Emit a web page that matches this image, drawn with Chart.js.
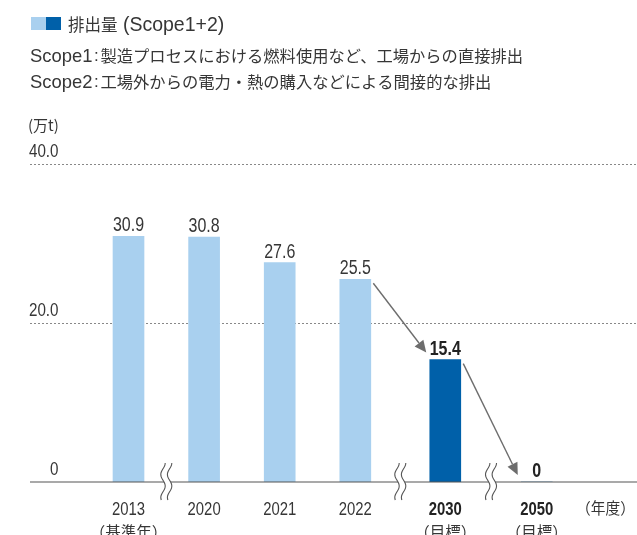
<!DOCTYPE html>
<html lang="ja">
<head>
<meta charset="UTF-8">
<title>排出量 (Scope1+2)</title>
<script src="https://cdn.jsdelivr.net/npm/chart.js@4"></script>
<style>
  body { margin: 0; background: #fff; }
  canvas { display: block; }
</style>
</head>
<body>
<canvas id="myChart" width="637" height="535"></canvas>
<script>
// ---- data ----
const years = ['2013', '2020', '2021', '2022', '2030', '2050'];
const yearNotes = ['（基準年）', '', '', '', '（目標）', '（目標）'];
const emissions = [30.9, 30.8, 27.6, 25.5, 15.4, 0];
const isTarget = [false, false, false, false, true, true];
const yTickValues = [0, 20, 40];
const yTickLabels = ['0', '20.0', '40.0'];

// where each year sits on the x axis (extra room around the breaks)
const slots = [0, 1, 2, 3, 4.19, 5.4];
// axis breaks come after these indexes
const breakAfter = [0, 3, 4];
// arrows go from index to index
const arrows = [[3, 4], [4, 5]];

const LIGHT = '#a9d0ef';
const DARK = '#0060a9';
const TEXT = '#363636';
const NUM_FONT = "'Liberation Sans', Arial, sans-serif";
const JP_FONT = "'Noto Sans CJK JP', sans-serif";

// draw text, optionally squeezed horizontally (sx)
function drawText(ctx, str, x, y, size, opts) {
  opts = opts || {};
  ctx.save();
  ctx.font = (opts.bold ? 'bold ' : '') + size + 'px ' + (opts.family || NUM_FONT);
  ctx.fillStyle = opts.color || TEXT;
  ctx.textBaseline = 'alphabetic';
  ctx.textAlign = 'left';
  const sx = opts.sx || 1;
  const w = ctx.measureText(str).width * sx;
  let left = x;
  if (opts.align === 'center') left = x - w / 2;
  if (opts.align === 'right') left = x - w;
  ctx.translate(left, y);
  ctx.scale(sx, 1);
  ctx.fillText(str, 0, 0);
  ctx.restore();
  return left + w;
}

function drawArrow(ctx, x1, y1, x2, y2) {
  const a = Math.atan2(y2 - y1, x2 - x1);
  const head = 12, half = 5.5;
  const bx = x2 - head * Math.cos(a), by = y2 - head * Math.sin(a);
  ctx.save();
  ctx.strokeStyle = '#6d6d6d';
  ctx.fillStyle = '#6d6d6d';
  ctx.lineWidth = 1.4;
  ctx.beginPath();
  ctx.moveTo(x1, y1);
  ctx.lineTo(bx, by);
  ctx.stroke();
  ctx.beginPath();
  ctx.moveTo(x2, y2);
  ctx.lineTo(bx + half * Math.sin(a), by - half * Math.cos(a));
  ctx.lineTo(bx - half * Math.sin(a), by + half * Math.cos(a));
  ctx.closePath();
  ctx.fill();
  ctx.restore();
}

// wavy double line that cuts the baseline
function drawBreak(ctx, cx, yb) {
  const y0 = yb - 19, y1 = yb + 18;
  const wave = (off) => {
    const pts = [];
    for (let y = y0; y <= y1; y += 1) {
      pts.push([cx + off + 2.2 * Math.cos(Math.PI * (y - y0) / 11.5), y]);
    }
    return pts;
  };
  const a = wave(-3.3), b = wave(3.3);
  ctx.save();
  ctx.fillStyle = '#fff';
  ctx.beginPath();
  a.forEach((p, i) => i ? ctx.lineTo(p[0], p[1]) : ctx.moveTo(p[0], p[1]));
  b.slice().reverse().forEach(p => ctx.lineTo(p[0], p[1]));
  ctx.closePath();
  ctx.fill();
  ctx.strokeStyle = '#555';
  ctx.lineWidth = 1.1;
  [a, b].forEach(pts => {
    ctx.beginPath();
    pts.forEach((p, i) => i ? ctx.lineTo(p[0], p[1]) : ctx.moveTo(p[0], p[1]));
    ctx.stroke();
  });
  ctx.restore();
}

// "ScopeN : ..." note line
function noteLine(ctx, label, text, y) {
  const nx = drawText(ctx, label, 30, y, 19, { sx: 0.97 });
  drawText(ctx, ':', nx + 1.5, y - 1, 17);
  drawText(ctx, text, nx + 8, y, 16.3, { family: JP_FONT });
}

const decorPlugin = {
  id: 'decor',
  beforeDatasetsDraw(chart) {
    const ctx = chart.ctx;
    const y = chart.scales.y;
    const area = chart.chartArea;
    ctx.save();
    ctx.strokeStyle = '#888';
    ctx.lineWidth = 1;
    ctx.setLineDash([2, 2]);
    yTickValues.forEach(v => {
      if (v === 0) return;
      const py = Math.round(y.getPixelForValue(v)) + 0.5;
      ctx.beginPath();
      ctx.moveTo(area.left, py);
      ctx.lineTo(area.right, py);
      ctx.stroke();
    });
    ctx.restore();
  },
  afterDatasetsDraw(chart) {
    const ctx = chart.ctx;
    const x = chart.scales.x;
    const y = chart.scales.y;
    const area = chart.chartArea;
    const base = y.getPixelForValue(0);

    // baseline
    ctx.save();
    ctx.strokeStyle = '#555';
    ctx.lineWidth = 1.2;
    ctx.beginPath();
    ctx.moveTo(area.left, base);
    ctx.lineTo(area.right, base);
    ctx.stroke();
    ctx.restore();

    breakAfter.forEach(i => {
      const cx = (x.getPixelForValue(slots[i]) + x.getPixelForValue(slots[i + 1])) / 2;
      drawBreak(ctx, cx, base);
    });

    // y tick labels sit above their grid lines
    yTickValues.forEach((v, i) => {
      drawText(ctx, yTickLabels[i], 58.5, y.getPixelForValue(v) - 7, 18.5, { align: 'right', sx: 0.82 });
    });
    drawText(ctx, '(万t)', 28, 131, 15, { family: JP_FONT });

    // value labels and year labels
    years.forEach((yr, i) => {
      const cx = x.getPixelForValue(slots[i]);
      const top = y.getPixelForValue(emissions[i]);
      drawText(ctx, String(emissions[i]), cx, top - 5, 19.5,
        { align: 'center', sx: 0.82, bold: isTarget[i], color: isTarget[i] ? '#222' : TEXT });
      drawText(ctx, yr, cx, 515, 18.6,
        { align: 'center', sx: 0.8, bold: isTarget[i], color: isTarget[i] ? '#222' : TEXT });
      if (yearNotes[i]) {
        drawText(ctx, yearNotes[i], cx, 538, 15.5, { align: 'center', family: JP_FONT });
      }
    });
    drawText(ctx, '（年度）', 635, 514, 15.5, { align: 'right', family: JP_FONT, sx: 0.95 });

    // arrows toward the targets
    arrows.forEach(([from, to]) => {
      const x1 = x.getPixelForValue(slots[from]) + 18;
      const y1 = y.getPixelForValue(emissions[from]) + 4;
      const x2 = x.getPixelForValue(slots[to]) - 19;
      const y2 = y.getPixelForValue(emissions[to]) - 7;
      drawArrow(ctx, x1, y1, x2, y2);
    });

    // legend and notes at the top
    ctx.fillStyle = LIGHT;
    ctx.fillRect(31, 17, 15, 13);
    ctx.fillStyle = DARK;
    ctx.fillRect(46, 17, 15, 13);
    const nx = drawText(ctx, '排出量', 68, 31, 16.5, { family: JP_FONT });
    drawText(ctx, ' (Scope1+2)', nx, 31, 19.5);
    noteLine(ctx, 'Scope1', '製造プロセスにおける燃料使用など、工場からの直接排出', 62);
    noteLine(ctx, 'Scope2', '工場外からの電力・熱の購入などによる間接的な排出', 88);
  }
};

const ctx = document.getElementById('myChart').getContext('2d');

new Chart(ctx, {
  type: 'bar',
  data: {
    datasets: [{
      data: years.map((yr, i) => ({ x: slots[i], y: emissions[i] })),
      backgroundColor: isTarget.map(t => t ? DARK : LIGHT),
      borderWidth: 0,
      barThickness: 31
    }]
  },
  options: {
    responsive: false,
    animation: false,
    devicePixelRatio: 1,
    layout: { padding: { left: 30, right: 0, top: 164, bottom: 53 } },
    scales: {
      x: { type: 'linear', min: -1.303, max: 6.726, offset: false, display: false },
      y: { min: 0, max: 40, display: false }
    },
    plugins: {
      legend: { display: false },
      tooltip: { enabled: false }
    }
  },
  plugins: [decorPlugin]
});
</script>
</body>
</html>
